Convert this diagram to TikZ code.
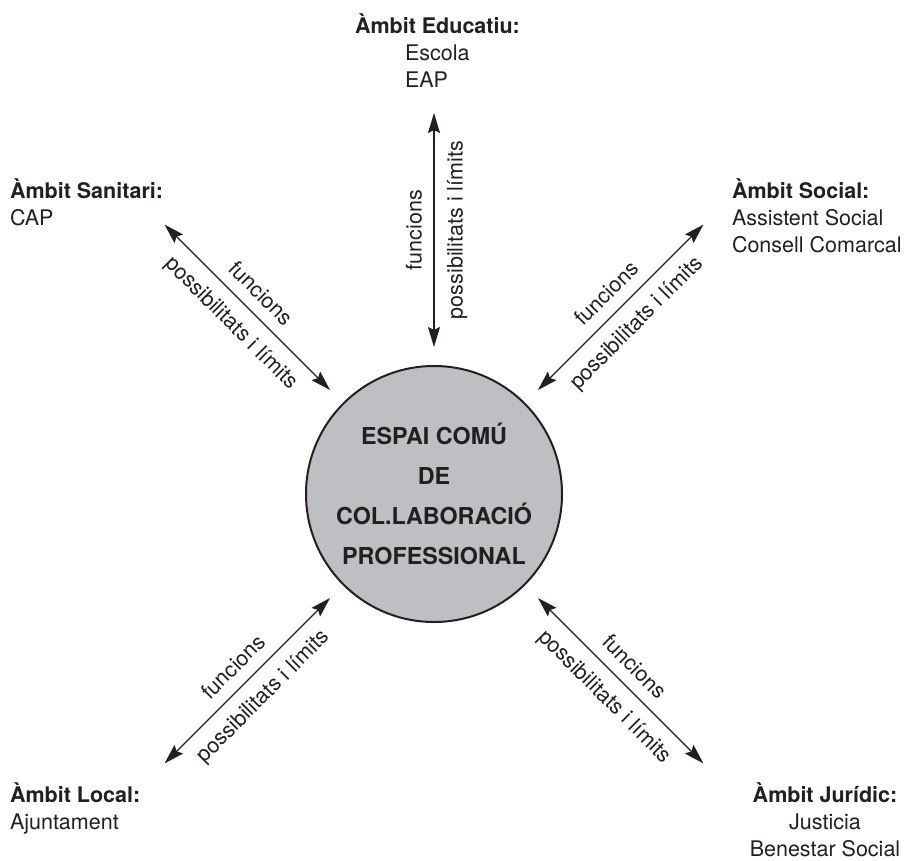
\documentclass[tikz,border=0pt]{standalone}
\usepackage{fontspec}
\setmainfont{TeX Gyre Heros}
\usetikzlibrary{arrows.meta,calc}
\definecolor{ink}{RGB}{35,31,32}
\definecolor{disc}{RGB}{190,191,195}
\begin{document}
\begin{tikzpicture}[x=1bp,y=-1bp,
  every node/.style={text=ink, inner sep=0pt, outer sep=0pt},
  body/.style={font=\fontsize{21.5bp}{27bp}\selectfont, align=left, anchor=base west},
  conn/.style={draw=ink, line width=1.3bp, {Stealth[length=20bp,width=12bp,inset=3bp]}-{Stealth[length=20bp,width=12bp,inset=3bp]}},
  labA/.style={font=\fontsize{21.5bp}{27bp}\selectfont, above, inner sep=12bp},
  labB/.style={font=\fontsize{21.5bp}{27bp}\selectfont, below, inner sep=13bp}]
\useasboundingbox (0,0) rectangle (907,861);

\node[circle, draw=ink, line width=2bp, fill=disc, minimum size=256bp,
      font=\fontsize{23.3bp}{40bp}\selectfont\bfseries, align=center]
  (c) at (434,494) {ESPAI COMÚ\\DE\\COL.LABORACIÓ\\PROFESSIONAL};

\foreach \a in {45,90,135,225,315}{
  \path (c.center) ++(\a:147bp) coordinate (i\a) ++(\a:234bp) coordinate (o\a);
}

% labels (base anchor = baseline of the last line)
\node[body] (edu) at (355,87) {\textbf{Àmbit Educatiu:}\\\hspace*{50bp}Escola\\\hspace*{50bp}EAP};
\node[body] (san) at (10,225) {\textbf{Àmbit Sanitari:}\\CAP};
\node[body] (soc) at (732,252) {\textbf{Àmbit Social:}\\Assistent Social\\Consell Comarcal};
\node[body] (loc) at (10,829) {\textbf{Àmbit Local:}\\Ajuntament};
\node[body, align=center, anchor=base] (jur) at (825,856) {\textbf{Àmbit Jurídic:}\\Justicia\\Benestar Social};

% connectors
\draw[conn] (i90) -- node[labA, rotate=90] {funcions} node[labB, rotate=90] {possibilitats i límits} (o90);
\draw[conn] (i45) -- node[labA, sloped] {funcions} node[labB, sloped] {possibilitats i límits} (o45);
\draw[conn] (o135) -- node[labA, sloped] {funcions} node[labB, sloped] {possibilitats i límits} (i135);
\draw[conn] (o225) -- node[labA, sloped] {funcions} node[labB, sloped] {possibilitats i límits} (i225);
\draw[conn] (i315) -- node[labA, sloped] {funcions} node[labB, sloped] {possibilitats i límits} (o315);
\end{tikzpicture}
\end{document}
